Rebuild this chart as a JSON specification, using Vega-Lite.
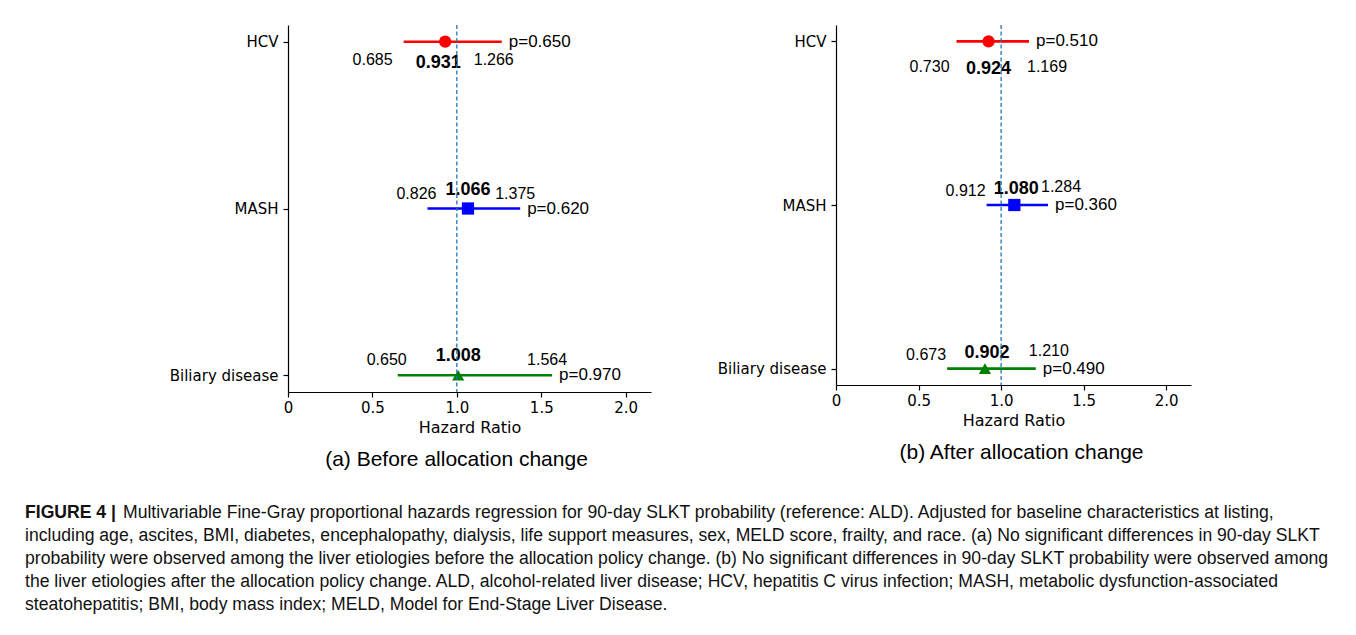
{
  "$schema": "https://vega.github.io/schema/vega-lite/v6.json",
  "background": "white",
  "padding": {"left": 25, "top": 24, "right": 5, "bottom": 5},
  "config": {
    "view": {"stroke": null},
    "axis": {"grid": false, "domainColor": "#000", "domainWidth": 1.2, "tickColor": "#000", "tickWidth": 1.2, "tickSize": 5, "labelFont": "DejaVu Sans", "labelFontSize": 15, "labelColor": "#000", "titleFont": "DejaVu Sans", "titleFontSize": 16, "titleFontWeight": "normal", "titleColor": "#000", "labelPadding": 3, "titlePadding": 4, "labelFlush": false}
  },
  "datasets": {
    "before": [
      {"name": "HCV", "hr": 0.931, "lower": 0.685, "upper": 1.266, "p_label": "p=0.650"},
      {"name": "MASH", "hr": 1.066, "lower": 0.826, "upper": 1.375, "p_label": "p=0.620"},
      {"name": "Biliary disease", "hr": 1.008, "lower": 0.650, "upper": 1.564, "p_label": "p=0.970"}
    ],
    "after": [
      {"name": "HCV", "hr": 0.924, "lower": 0.730, "upper": 1.169, "p_label": "p=0.510"},
      {"name": "MASH", "hr": 1.080, "lower": 0.912, "upper": 1.284, "p_label": "p=0.360"},
      {"name": "Biliary disease", "hr": 0.902, "lower": 0.673, "upper": 1.210, "p_label": "p=0.490"}
    ],
    "caption_bold": [
      {"line": 1, "text": "FIGURE 4 |"}
    ],
    "caption_first": [
      {"line": 1, "text": "Multivariable Fine-Gray proportional hazards regression for 90-day SLKT probability (reference: ALD). Adjusted for baseline characteristics at listing,"}
    ],
    "caption_rest": [
      {"line": 2, "text": "including age, ascites, BMI, diabetes, encephalopathy, dialysis, life support measures, sex, MELD score, frailty, and race. (a) No significant differences in 90-day SLKT"},
      {"line": 3, "text": "probability were observed among the liver etiologies before the allocation policy change. (b) No significant differences in 90-day SLKT probability were observed among"},
      {"line": 4, "text": "the liver etiologies after the allocation policy change. ALD, alcohol-related liver disease; HCV, hepatitis C virus infection; MASH, metabolic dysfunction-associated"},
      {"line": 5, "text": "steatohepatitis; BMI, body mass index; MELD, Model for End-Stage Liver Disease."}
    ]
  },
  "vconcat": [
    {
      "hconcat": [
        {
          "width": 78, "height": 10,
          "data": {"values": []},
          "mark": "point"
        },
        {
          "width": 363, "height": 367,
          "data": {"name": "before"},
          "title": {"text": "(a) Before allocation change", "orient": "bottom", "anchor": "middle", "frame": "group", "font": "Liberation Sans", "fontSize": 21, "fontWeight": "normal", "color": "#000", "offset": 14, "dx": -13},
          "layer": [
            {
              "mark": {"type": "rule", "strokeWidth": 2.6},
              "encoding": {
                "y": {"field": "name", "type": "nominal", "title": null, "scale": {"type": "point", "padding": 0.1, "domain": ["HCV", "MASH", "Biliary disease"]}, "axis": {"labelPadding": 5}},
                "x": {"field": "lower", "type": "quantitative", "title": "Hazard Ratio", "scale": {"domain": [0, 2.15], "nice": false, "zero": false}, "axis": {"values": [0, 0.5, 1, 1.5, 2], "labelExpr": "datum.value == 0 ? '0' : format(datum.value, '.1f')"}},
                "x2": {"field": "upper"},
                "color": {"field": "name", "type": "nominal", "scale": {"domain": ["HCV", "MASH", "Biliary disease"], "range": ["#ff0000", "#0000ff", "#008000"]}, "legend": null}
              }
            },
            {
              "mark": {"type": "point", "filled": true, "size": 150, "opacity": 1},
              "encoding": {
                "y": {"field": "name", "type": "nominal", "title": null},
                "x": {"field": "hr", "type": "quantitative", "title": "Hazard Ratio"},
                "color": {"field": "name", "type": "nominal", "legend": null},
                "shape": {"field": "name", "type": "nominal", "scale": {"domain": ["HCV", "MASH", "Biliary disease"], "range": ["circle", "square", "triangle-up"]}, "legend": null}
              }
            },
            {
              "mark": {"type": "text", "align": "left", "baseline": "middle", "dx": 7, "font": "Liberation Sans", "fontSize": 17, "color": "#000"},
              "encoding": {
                "y": {"field": "name", "type": "nominal", "title": null},
                "x": {"field": "upper", "type": "quantitative", "title": "Hazard Ratio"},
                "text": {"field": "p_label"}
              }
            },
            {
              "transform": [{"filter": "datum.name === 'HCV'"}],
              "mark": {"type": "text", "align": "right", "baseline": "middle", "dy": 18, "dx": -11, "font": "Liberation Sans", "fontSize": 16, "color": "#000"},
              "encoding": {
                "y": {"field": "name", "type": "nominal", "title": null},
                "x": {"field": "lower", "type": "quantitative", "title": "Hazard Ratio"},
                "text": {"field": "lower", "type": "quantitative", "format": ".3f"}
              }
            },
            {
              "transform": [{"filter": "datum.name !== 'HCV'"}],
              "mark": {"type": "text", "align": "right", "baseline": "middle", "dy": -15, "dx": 9, "font": "Liberation Sans", "fontSize": 16, "color": "#000"},
              "encoding": {
                "y": {"field": "name", "type": "nominal", "title": null},
                "x": {"field": "lower", "type": "quantitative", "title": "Hazard Ratio"},
                "text": {"field": "lower", "type": "quantitative", "format": ".3f"}
              }
            },
            {
              "transform": [{"filter": "datum.name === 'HCV'"}],
              "mark": {"type": "text", "align": "center", "baseline": "middle", "dy": 21, "dx": -7, "font": "Liberation Sans", "fontSize": 18, "fontWeight": "bold", "color": "#000"},
              "encoding": {
                "y": {"field": "name", "type": "nominal", "title": null},
                "x": {"field": "hr", "type": "quantitative", "title": "Hazard Ratio"},
                "text": {"field": "hr", "type": "quantitative", "format": ".3f"}
              }
            },
            {
              "transform": [{"filter": "datum.name !== 'HCV'"}],
              "mark": {"type": "text", "align": "center", "baseline": "middle", "dy": -19, "dx": 0, "font": "Liberation Sans", "fontSize": 18, "fontWeight": "bold", "color": "#000"},
              "encoding": {
                "y": {"field": "name", "type": "nominal", "title": null},
                "x": {"field": "hr", "type": "quantitative", "title": "Hazard Ratio"},
                "text": {"field": "hr", "type": "quantitative", "format": ".3f"}
              }
            },
            {
              "transform": [{"filter": "datum.name === 'HCV'"}],
              "mark": {"type": "text", "align": "center", "baseline": "middle", "dy": 18, "dx": -8, "font": "Liberation Sans", "fontSize": 16, "color": "#000"},
              "encoding": {
                "y": {"field": "name", "type": "nominal", "title": null},
                "x": {"field": "upper", "type": "quantitative", "title": "Hazard Ratio"},
                "text": {"field": "upper", "type": "quantitative", "format": ".3f"}
              }
            },
            {
              "transform": [{"filter": "datum.name !== 'HCV'"}],
              "mark": {"type": "text", "align": "center", "baseline": "middle", "dy": -15, "dx": -5, "font": "Liberation Sans", "fontSize": 16, "color": "#000"},
              "encoding": {
                "y": {"field": "name", "type": "nominal", "title": null},
                "x": {"field": "upper", "type": "quantitative", "title": "Hazard Ratio"},
                "text": {"field": "upper", "type": "quantitative", "format": ".3f"}
              }
            },
            {
              "data": {"values": [{"ref": 1}]},
              "mark": {"type": "rule", "color": "#1f77b4", "strokeDash": [4, 2.5], "strokeWidth": 1.3},
              "encoding": {
                "x": {"field": "ref", "type": "quantitative", "title": "Hazard Ratio"}
              }
            }
          ]
        },
        {
          "width": 355, "height": 360,
          "data": {"name": "after"},
          "title": {"text": "(b) After allocation change", "orient": "bottom", "anchor": "middle", "frame": "group", "font": "Liberation Sans", "fontSize": 21, "fontWeight": "normal", "color": "#000", "offset": 14, "dx": 8},
          "layer": [
            {
              "mark": {"type": "rule", "strokeWidth": 2.6},
              "encoding": {
                "y": {"field": "name", "type": "nominal", "title": null, "scale": {"type": "point", "padding": 0.1, "domain": ["HCV", "MASH", "Biliary disease"]}, "axis": {"labelPadding": 5}},
                "x": {"field": "lower", "type": "quantitative", "title": "Hazard Ratio", "scale": {"domain": [0, 2.15], "nice": false, "zero": false}, "axis": {"values": [0, 0.5, 1, 1.5, 2], "labelExpr": "datum.value == 0 ? '0' : format(datum.value, '.1f')"}},
                "x2": {"field": "upper"},
                "color": {"field": "name", "type": "nominal", "scale": {"domain": ["HCV", "MASH", "Biliary disease"], "range": ["#ff0000", "#0000ff", "#008000"]}, "legend": null}
              }
            },
            {
              "mark": {"type": "point", "filled": true, "size": 150, "opacity": 1},
              "encoding": {
                "y": {"field": "name", "type": "nominal", "title": null},
                "x": {"field": "hr", "type": "quantitative", "title": "Hazard Ratio"},
                "color": {"field": "name", "type": "nominal", "legend": null},
                "shape": {"field": "name", "type": "nominal", "scale": {"domain": ["HCV", "MASH", "Biliary disease"], "range": ["circle", "square", "triangle-up"]}, "legend": null}
              }
            },
            {
              "mark": {"type": "text", "align": "left", "baseline": "middle", "dx": 7, "font": "Liberation Sans", "fontSize": 17, "color": "#000"},
              "encoding": {
                "y": {"field": "name", "type": "nominal", "title": null},
                "x": {"field": "upper", "type": "quantitative", "title": "Hazard Ratio"},
                "text": {"field": "p_label"}
              }
            },
            {
              "transform": [{"filter": "datum.name === 'HCV'"}],
              "mark": {"type": "text", "align": "right", "baseline": "middle", "dy": 26, "dx": -7, "font": "Liberation Sans", "fontSize": 16, "color": "#000"},
              "encoding": {
                "y": {"field": "name", "type": "nominal", "title": null},
                "x": {"field": "lower", "type": "quantitative", "title": "Hazard Ratio"},
                "text": {"field": "lower", "type": "quantitative", "format": ".3f"}
              }
            },
            {
              "transform": [{"filter": "datum.name !== 'HCV'"}],
              "mark": {"type": "text", "align": "right", "baseline": "middle", "dy": -14, "dx": -1, "font": "Liberation Sans", "fontSize": 16, "color": "#000"},
              "encoding": {
                "y": {"field": "name", "type": "nominal", "title": null},
                "x": {"field": "lower", "type": "quantitative", "title": "Hazard Ratio"},
                "text": {"field": "lower", "type": "quantitative", "format": ".3f"}
              }
            },
            {
              "transform": [{"filter": "datum.name === 'HCV'"}],
              "mark": {"type": "text", "align": "center", "baseline": "middle", "dy": 28, "dx": 0, "font": "Liberation Sans", "fontSize": 18, "fontWeight": "bold", "color": "#000"},
              "encoding": {
                "y": {"field": "name", "type": "nominal", "title": null},
                "x": {"field": "hr", "type": "quantitative", "title": "Hazard Ratio"},
                "text": {"field": "hr", "type": "quantitative", "format": ".3f"}
              }
            },
            {
              "transform": [{"filter": "datum.name !== 'HCV'"}],
              "mark": {"type": "text", "align": "center", "baseline": "middle", "dy": -16, "dx": 2, "font": "Liberation Sans", "fontSize": 18, "fontWeight": "bold", "color": "#000"},
              "encoding": {
                "y": {"field": "name", "type": "nominal", "title": null},
                "x": {"field": "hr", "type": "quantitative", "title": "Hazard Ratio"},
                "text": {"field": "hr", "type": "quantitative", "format": ".3f"}
              }
            },
            {
              "transform": [{"filter": "datum.name === 'HCV'"}],
              "mark": {"type": "text", "align": "left", "baseline": "middle", "dy": 26, "dx": -2, "font": "Liberation Sans", "fontSize": 16, "color": "#000"},
              "encoding": {
                "y": {"field": "name", "type": "nominal", "title": null},
                "x": {"field": "upper", "type": "quantitative", "title": "Hazard Ratio"},
                "text": {"field": "upper", "type": "quantitative", "format": ".3f"}
              }
            },
            {
              "transform": [{"filter": "datum.name !== 'HCV'"}],
              "mark": {"type": "text", "align": "left", "baseline": "middle", "dy": -18, "dx": -7, "font": "Liberation Sans", "fontSize": 16, "color": "#000"},
              "encoding": {
                "y": {"field": "name", "type": "nominal", "title": null},
                "x": {"field": "upper", "type": "quantitative", "title": "Hazard Ratio"},
                "text": {"field": "upper", "type": "quantitative", "format": ".3f"}
              }
            },
            {
              "data": {"values": [{"ref": 1}]},
              "mark": {"type": "rule", "color": "#1f77b4", "strokeDash": [4, 2.5], "strokeWidth": 1.3},
              "encoding": {
                "x": {"field": "ref", "type": "quantitative", "title": "Hazard Ratio"}
              }
            }
          ]
        }
      ],
      "spacing": 185,
      "bounds": "flush"
    },
    {
      "width": 1311, "height": 114,
      "layer": [
        {
          "data": {"name": "caption_bold"},
          "mark": {"type": "text", "align": "left", "baseline": "middle", "font": "Liberation Sans", "fontSize": 17.6, "fontWeight": "bold", "color": "#111"},
          "encoding": {
            "y": {"field": "line", "type": "ordinal", "scale": {"type": "band", "domain": [1, 2, 3, 4, 5], "paddingInner": 0, "paddingOuter": 0}, "axis": null},
            "x": {"value": 0},
            "text": {"field": "text"}
          }
        },
        {
          "data": {"name": "caption_first"},
          "mark": {"type": "text", "align": "left", "baseline": "middle", "dx": 98, "font": "Liberation Sans", "fontSize": 17.6, "color": "#111"},
          "encoding": {
            "y": {"field": "line", "type": "ordinal", "axis": null},
            "x": {"value": 0},
            "text": {"field": "text"}
          }
        },
        {
          "data": {"name": "caption_rest"},
          "mark": {"type": "text", "align": "left", "baseline": "middle", "font": "Liberation Sans", "fontSize": 17.6, "color": "#111"},
          "encoding": {
            "y": {"field": "line", "type": "ordinal", "axis": null},
            "x": {"value": 0},
            "text": {"field": "text"}
          }
        }
      ]
    }
  ],
  "spacing": 32
}
